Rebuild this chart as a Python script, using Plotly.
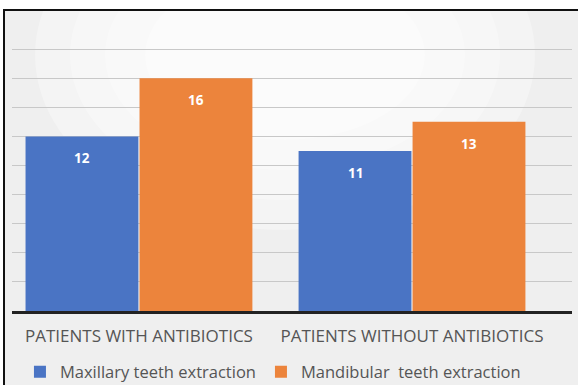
import plotly.graph_objects as go

categories = ["PATIENTS WITH ANTIBIOTICS", "PATIENTS WITHOUT ANTIBIOTICS"]
series_names = ["Maxillary teeth extraction", "Mandibular  teeth extraction"]
maxillary = [12, 11]
mandibular = [16, 13]
grid_values = [0, 2, 4, 6, 8, 10, 12, 14, 16, 18]
colors = ["#4a74c4", "#ec843c"]

W, H = 578, 385
L, R, T, B = 12, 6, 20, 74
pw, ph = W - L - R, H - T - B

fig = go.Figure()
for name, vals, col in zip(series_names, [maxillary, mandibular], colors):
    fig.add_trace(go.Bar(x=categories, y=vals, name=name, marker_color=col,
                         marker_line_width=0, hoverinfo="skip"))

bargap = 0.165
bw = (1 - bargap) / 2
annotations = []
for s, vals in enumerate([maxillary, mandibular]):
    off = (s - 0.5) * bw
    for i, v in enumerate(vals):
        annotations.append(dict(x=i + off, y=v, xref="x", yref="y", text=f"<b>{v}</b>",
                                showarrow=False, yshift=-22,
                                font=dict(family="Open Sans", size=13.5, color="white")))

def px2x(px):
    return (px - L) / pw

def py2y(py):
    return (H - B - py) / ph

shapes = [
    dict(type="rect", xref="paper", yref="paper", x0=px2x(4), x1=px2x(W + 5),
         y0=py2y(H + 5), y1=py2y(10), fillcolor="#efefef", line_width=0, layer="below"),
]
# soft light glow in the upper middle of the background
for k, (rx, ry) in enumerate([(250, 175), (215, 145), (180, 115), (140, 85)]):
    cx, cy = 285, 55
    shapes.append(dict(type="circle", xref="paper", yref="paper",
                       x0=px2x(cx - rx), x1=px2x(cx + rx),
                       y0=py2y(cy + ry), y1=py2y(cy - ry),
                       fillcolor="white", opacity=0.3, line_width=0, layer="below"))
shapes += [
    dict(type="rect", xref="paper", yref="paper", x0=px2x(-5), x1=px2x(W + 5),
         y0=py2y(10), y1=py2y(-5), fillcolor="white", line_width=0, layer="below"),
    dict(type="line", xref="paper", yref="paper", x0=px2x(4), x1=px2x(4),
         y0=py2y(H + 5), y1=py2y(10), line=dict(color="#111111", width=2)),
    dict(type="line", xref="paper", yref="paper", x0=px2x(3), x1=px2x(W + 5),
         y0=py2y(10), y1=py2y(10), line=dict(color="#111111", width=2)),
]

fig.update_layout(
    width=W, height=H,
    margin=dict(l=L, r=R, t=T, b=B, autoexpand=False),
    paper_bgcolor="white",
    plot_bgcolor="rgba(0,0,0,0)",
    barmode="group", bargap=bargap, bargroupgap=0.01,
    font=dict(family="Open Sans", color="#595959"),
    xaxis=dict(range=[-0.465, 1.586], showline=True, linecolor="#222222", linewidth=2.5,
               ticks="", tickfont=dict(size=17, color="#555555"), showgrid=False,
               ticklabelstandoff=8, automargin=False),
    yaxis=dict(range=[0, 20], tickmode="array", tickvals=grid_values, showgrid=True,
               gridcolor="#c8c8c8", gridwidth=1,
               showticklabels=False, zeroline=False, showline=False, automargin=False),
    legend=dict(orientation="h", x=0.466, xanchor="center", xref="paper",
                y=(H - 372) / H, yanchor="middle", yref="container",
                font=dict(size=16.5, color="#555555"), bgcolor="rgba(0,0,0,0)",
                itemwidth=30, traceorder="normal"),
    annotations=annotations,
    shapes=shapes,
)

fig.write_html("out.html")
